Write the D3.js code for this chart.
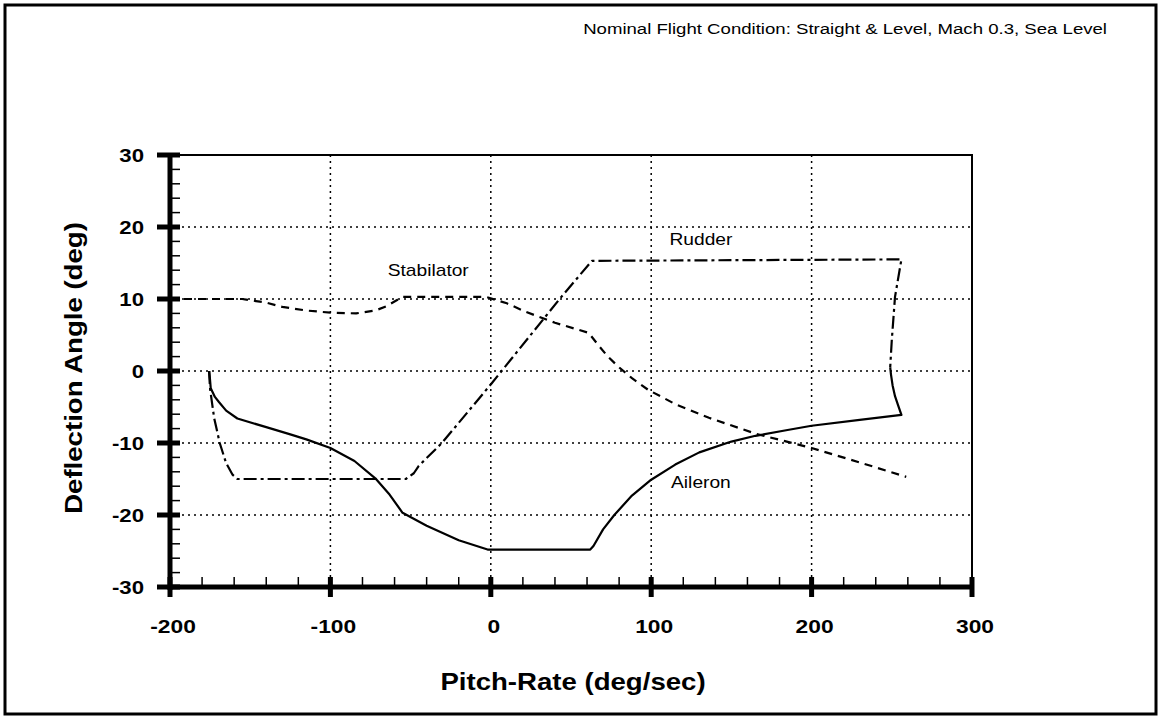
<!DOCTYPE html>
<html>
<head>
<meta charset="utf-8">
<script src="https://cdn.jsdelivr.net/npm/d3@7"></script>
<style>
  body { margin: 0; background: #fff; }
  text { font-family: "Liberation Sans", Arial, Helvetica, sans-serif; fill: #000; }
</style>
</head>
<body>
<div id="chart"></div>
<script>
// series (pitch-rate deg/sec, deflection deg)
let stabX = [-200, -155, -140, -130, -115, -100, -84, -72, -65, -55, -30, -3, 10, 22, 40, 61, 67, 73, 80, 88, 98, 115, 136, 165, 200, 230, 259];
let stabY = [10, 10, 9.5, 8.9, 8.4, 8.1, 8.0, 8.4, 9.0, 10.3, 10.3, 10.3, 9.4, 8.2, 6.7, 5.3, 3.6, 2.0, 0.5, -1.0, -2.6, -4.6, -6.5, -8.7, -10.7, -12.7, -14.7];

let rudderX = [-175.7, -175, -172.5, -169, -165, -161, -158, -53, -48, -45, -30.5, 0.6, 44, 63, 160, 256, 252, 250, 249];
let rudderY = [0, -2.5, -6.5, -10, -12.8, -14.4, -15, -15, -14.2, -13.2, -10, -1.7, 10.3, 15.3, 15.4, 15.5, 10.3, 4.3, 0.5];

let aileronX = [-175.5, -174.6, -172, -169.5, -165, -158, -140, -125, -115, -100, -85, -72, -63, -55, -40, -20, -2, 62, 64, 70, 77, 88, 100, 115, 130, 150, 165, 185, 200, 230, 256, 254, 252, 250.5, 249.5, 249];
let aileronY = [0, -2.4, -3.6, -4.3, -5.5, -6.6, -7.8, -8.8, -9.5, -10.7, -12.5, -14.9, -17.2, -19.7, -21.5, -23.5, -24.8, -24.8, -24.3, -22.0, -20.0, -17.3, -15.1, -13.0, -11.3, -9.8, -9.0, -8.2, -7.6, -6.8, -6.1, -4.8, -3.5, -2.0, -0.5, 0.5];

let xTicks = [-200, -100, 0, 100, 200, 300];
let yTicks = [-30, -20, -10, 0, 10, 20, 30];
let seriesLabels = ['Stabilator', 'Rudder', 'Aileron'];
let labelX = [-39, 131, 131];
let labelY = [14.0, 18.3, -15.35];

let title = 'Nominal Flight Condition: Straight & Level, Mach 0.3, Sea Level';
let xTitle = 'Pitch-Rate  (deg/sec)';
let yTitle = 'Deflection Angle  (deg)';

let width = 1161, height = 719;
let plotLeft = 170, plotRight = 972, plotTop = 155, plotBottom = 587;
// the scanned lettering is wider than the installed fonts
let stretch = 1.2;

let xScale = d3.scaleLinear().domain([-200, 300]).range([plotLeft, plotRight]);
let yScale = d3.scaleLinear().domain([-30, 30]).range([plotBottom, plotTop]);

let svg = d3.select('#chart')
  .append('svg')
  .attr('width', width)
  .attr('height', height);

// puts a text at (x, y), widened along its own direction
let addText = function(x, y, str, anchor, size, weight, rot) {
  return svg.append('text')
    .attr('transform', `translate(${x},${y}) rotate(${rot || 0}) scale(${stretch},1)`)
    .attr('text-anchor', anchor)
    .style('font-size', size + 'px')
    .style('font-weight', weight)
    .text(str);
};

// outer frame
svg.append('rect')
  .attr('x', 5).attr('y', 5)
  .attr('width', width - 10).attr('height', height - 10)
  .attr('fill', 'none')
  .attr('stroke', '#000')
  .attr('stroke-width', 3);

addText(1107, 34, title, 'end', 15.5, 'normal');

// grid
let grid = svg.append('g');
grid.selectAll('line.gx')
  .data(xTicks.slice(1, -1))
  .enter()
  .append('line')
  .attr('x1', d => xScale(d)).attr('x2', d => xScale(d))
  .attr('y1', plotTop).attr('y2', plotBottom)
  .attr('stroke', '#000').attr('stroke-width', 1.5)
  .attr('stroke-dasharray', '2,4');
grid.selectAll('line.gy')
  .data(yTicks.slice(1, -1))
  .enter()
  .append('line')
  .attr('x1', plotLeft).attr('x2', plotRight)
  .attr('y1', d => yScale(d)).attr('y2', d => yScale(d))
  .attr('stroke', '#000').attr('stroke-width', 1.5)
  .attr('stroke-dasharray', '2,4');

// top and right border
svg.append('path')
  .attr('d', `M${plotLeft},${plotTop}H${plotRight}V${plotBottom}`)
  .attr('fill', 'none')
  .attr('stroke', '#000')
  .attr('stroke-width', 2);

// minor ticks
let xMinor = d3.range(-200, 301, 20).filter(v => v % 100 !== 0);
svg.selectAll('line.xminor')
  .data(xMinor)
  .enter()
  .append('line')
  .attr('x1', d => xScale(d)).attr('x2', d => xScale(d))
  .attr('y1', plotBottom).attr('y2', plotBottom - 10)
  .attr('stroke', '#000').attr('stroke-width', 1.5);
let yMinor = d3.range(-30, 31, 2).filter(v => v % 10 !== 0);
svg.selectAll('line.yminor')
  .data(yMinor)
  .enter()
  .append('line')
  .attr('x1', plotLeft).attr('x2', plotLeft + 10)
  .attr('y1', d => yScale(d)).attr('y2', d => yScale(d))
  .attr('stroke', '#000').attr('stroke-width', 1.5);

// major ticks
svg.selectAll('line.xmajor')
  .data(xTicks)
  .enter()
  .append('line')
  .attr('x1', d => xScale(d)).attr('x2', d => xScale(d))
  .attr('y1', plotBottom - 10).attr('y2', plotBottom + 10)
  .attr('stroke', '#000').attr('stroke-width', 5);
svg.selectAll('line.ymajor')
  .data(yTicks)
  .enter()
  .append('line')
  .attr('x1', plotLeft - 13).attr('x2', plotLeft + 10)
  .attr('y1', d => yScale(d)).attr('y2', d => yScale(d))
  .attr('stroke', '#000').attr('stroke-width', 5);

// axes lines
svg.append('line')
  .attr('x1', plotLeft).attr('x2', plotRight)
  .attr('y1', plotBottom).attr('y2', plotBottom)
  .attr('stroke', '#000').attr('stroke-width', 5);
svg.append('line')
  .attr('x1', plotLeft).attr('x2', plotLeft)
  .attr('y1', plotTop).attr('y2', plotBottom + 3)
  .attr('stroke', '#000').attr('stroke-width', 5);

// tick labels
xTicks.forEach(d => addText(xScale(d) + 3, 633, d, 'middle', 19, 'bold'));
yTicks.forEach(d => addText(144, yScale(d) + 7, d, 'end', 18.5, 'bold'));

addText(573, 690, xTitle, 'middle', 23, 'bold');
addText(82, 368, yTitle, 'middle', 23, 'bold', -90);

// curves
let line = d3.line()
  .x(d => xScale(d[0]))
  .y(d => yScale(d[1]));

let series = [
  { xs: stabX, ys: stabY, dash: '8,6' },
  { xs: rudderX, ys: rudderY, dash: '13,4,3,4' },
  { xs: aileronX, ys: aileronY, dash: null }
];
series.forEach(s => {
  svg.append('path')
    .datum(s.xs.map((x, i) => [x, s.ys[i]]))
    .attr('d', line)
    .attr('fill', 'none')
    .attr('stroke', '#000')
    .attr('stroke-width', 2.2)
    .attr('stroke-linejoin', 'round')
    .attr('stroke-dasharray', s.dash);
});

seriesLabels.forEach((d, i) => {
  addText(xScale(labelX[i]), yScale(labelY[i]) + 6, d, 'middle', 16, 'normal');
});
</script>
</body>
</html>
